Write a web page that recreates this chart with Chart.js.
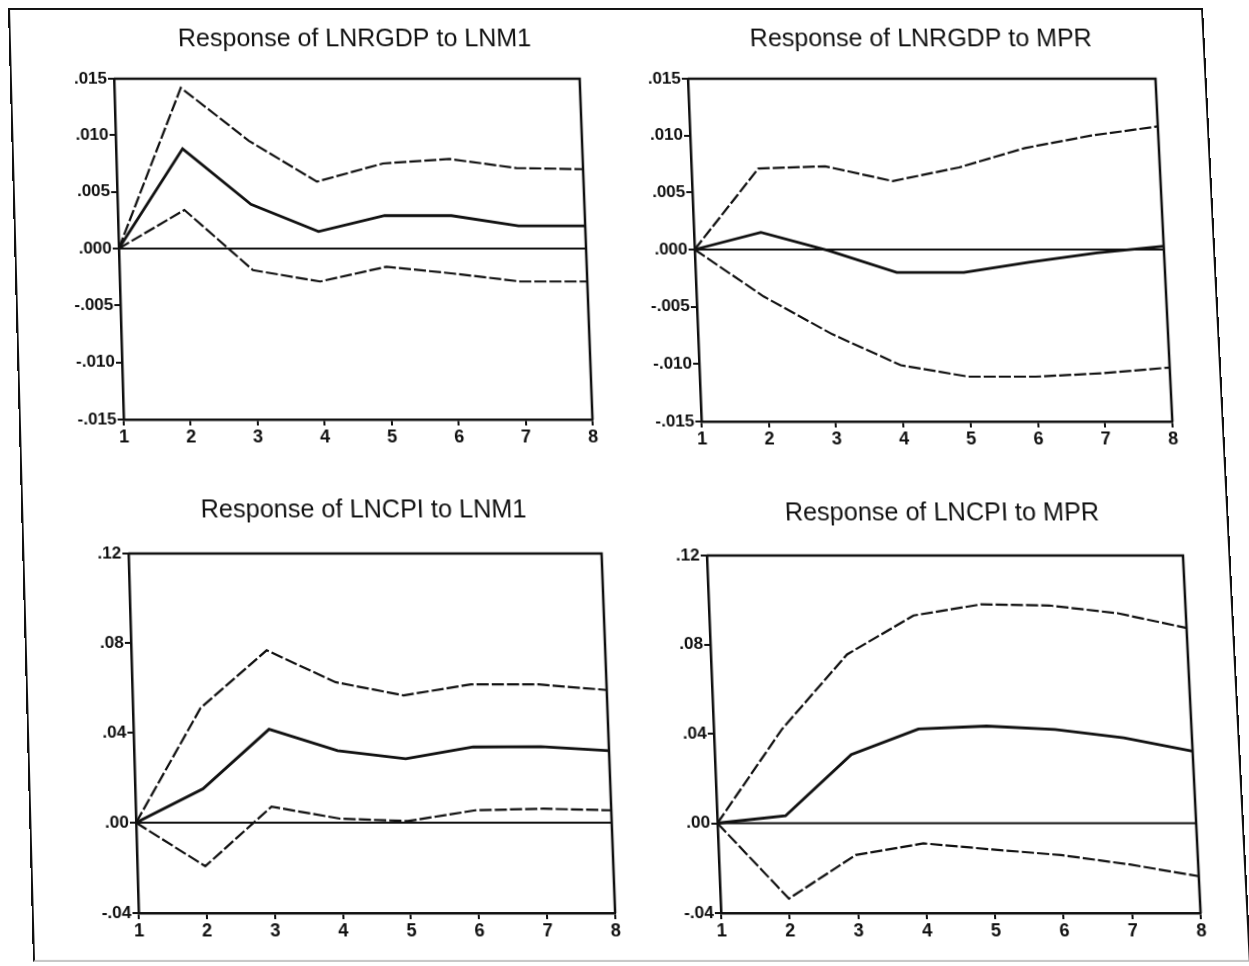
<!DOCTYPE html>
<html>
<head>
<meta charset="utf-8">
<script src="https://cdn.jsdelivr.net/npm/chart.js@4.4.1/dist/chart.umd.min.js"></script>
<style>
  html, body { margin: 0; padding: 0; background: #fff; }
  body { width: 1249px; height: 966px; overflow: hidden; position: relative; }
  #sheet {
    position: absolute; left: 0; top: 0; width: 1195px; height: 954px;
    transform-origin: 0 0; box-sizing: border-box;
    border-top: 2px solid #111; border-left: 2px solid #111;
    border-right: 2px solid #111; border-bottom: 2px solid #c8c8c8;
  }
  .panel { position: absolute; }
</style>
</head>
<body>
<div id="sheet">
  <div class="panel" id="p1"><canvas id="c1"></canvas></div>
  <div class="panel" id="p2"><canvas id="c2"></canvas></div>
  <div class="panel" id="p3"><canvas id="c3"></canvas></div>
  <div class="panel" id="p4"><canvas id="c4"></canvas></div>
</div>
<script>
// horizon (periods)
const periods = ['1', '2', '3', '4', '5', '6', '7', '8'];

// y tick values
const gdpTicks = [-0.015, -0.010, -0.005, 0.000, 0.005, 0.010, 0.015];
const cpiTicks = [-0.04, 0.00, 0.04, 0.08, 0.12];

// Response of LNRGDP to LNM1
const gdpM1 = [0, 0.0088, 0.0039, 0.0015, 0.0029, 0.0029, 0.0020, 0.0020];
const gdpM1Up = [0, 0.0142, 0.0095, 0.0059, 0.0075, 0.0079, 0.0071, 0.0070];
const gdpM1Lo = [0, 0.0034, -0.0019, -0.0029, -0.0016, -0.0022, -0.0029, -0.0029];

// Response of LNRGDP to MPR
const gdpMpr = [0, 0.0015, -0.0001, -0.0020, -0.0020, -0.0011, -0.0003, 0.0003];
const gdpMprUp = [0, 0.0071, 0.0073, 0.0060, 0.0072, 0.0089, 0.0100, 0.0108];
const gdpMprLo = [0, -0.0041, -0.0074, -0.0101, -0.0111, -0.0111, -0.0108, -0.0103];

// Response of LNCPI to LNM1
const cpiM1 = [0, 0.015, 0.0415, 0.032, 0.0284, 0.0336, 0.0338, 0.032];
const cpiM1Up = [0, 0.051, 0.0767, 0.0625, 0.0566, 0.0615, 0.0615, 0.059];
const cpiM1Lo = [0, -0.0193, 0.0071, 0.0018, 0.0007, 0.0055, 0.0062, 0.0055];

// Response of LNCPI to MPR
const cpiMpr = [0, 0.0033, 0.0306, 0.0421, 0.0434, 0.0419, 0.0381, 0.0321];
const cpiMprUp = [0, 0.042, 0.0755, 0.093, 0.098, 0.0975, 0.094, 0.0874];
const cpiMprLo = [0, -0.0336, -0.0142, -0.009, -0.0117, -0.0142, -0.0184, -0.0236];

// the scanned page is a bit skewed: map the flat sheet onto this quad
const sheetW = 1195, sheetH = 954;
const quad = [[8, 8], [1203, 8], [1251, 962], [33, 962]];

function sheetTransform() {
  const [x0, y0] = quad[0], [x1, y1] = quad[1], [x2, y2] = quad[2], [x3, y3] = quad[3];
  const dx1 = x1 - x2, dx2 = x3 - x2, dx3 = x0 - x1 + x2 - x3;
  const dy1 = y1 - y2, dy2 = y3 - y2, dy3 = y0 - y1 + y2 - y3;
  const den = dx1 * dy2 - dx2 * dy1;
  const g = (dx3 * dy2 - dx2 * dy3) / den;
  const h = (dx1 * dy3 - dx3 * dy1) / den;
  const a = x1 - x0 + g * x1, b = x3 - x0 + h * x3, c = x0;
  const d = y1 - y0 + g * y1, e = y3 - y0 + h * y3, f = y0;
  const m = [a / sheetW, d / sheetW, 0, g / sheetW,
             b / sheetH, e / sheetH, 0, h / sheetH,
             0, 0, 1, 0,
             c, f, 0, 1];
  return 'matrix3d(' + m.join(',') + ')';
}
document.getElementById('sheet').style.transform = sheetTransform();

const ink = '#111';
const fontFam = '"Liberation Sans", Arial, sans-serif';
const yW = 62, padTop = 56, padRight = 16, xH = 32;

function fmt(v, dec) {
  return v.toFixed(dec).replace('0.', '.');
}

// frame, zero line and title
const panelDeco = {
  id: 'panelDeco',
  beforeDatasetsDraw(chart) {
    const ctx = chart.ctx, ca = chart.chartArea;
    const y0 = chart.scales.y.getPixelForValue(0);
    ctx.save();
    ctx.strokeStyle = ink;
    ctx.lineWidth = 2;
    ctx.beginPath();
    ctx.moveTo(ca.left, y0);
    ctx.lineTo(ca.right, y0);
    ctx.stroke();
    ctx.restore();
  },
  afterDraw(chart, args, opts) {
    const ctx = chart.ctx, ca = chart.chartArea;
    ctx.save();
    ctx.strokeStyle = ink;
    ctx.lineWidth = 2.5;
    ctx.beginPath();
    ctx.moveTo(ca.left, ca.top);
    ctx.lineTo(ca.right, ca.top);
    ctx.lineTo(ca.right, ca.bottom);
    ctx.stroke();
    ctx.fillStyle = ink;
    ctx.font = '25px ' + fontFam;
    ctx.textAlign = 'center';
    ctx.textBaseline = 'middle';
    ctx.fillText(opts.text, (ca.left + ca.right) / 2 + opts.dx, ca.top + opts.dy);
    ctx.restore();
  }
};

function makePanel(n, area, title, tdx, tdy, ticks, dec, mid, up, lo) {
  const box = document.getElementById('p' + n);
  box.style.left = (area[0] - yW) + 'px';
  box.style.top = (area[1] - padTop) + 'px';
  box.style.width = (yW + area[2] - area[0] + padRight) + 'px';
  box.style.height = (padTop + area[3] - area[1] + xH + 2) + 'px';

  const band = (data) => ({
    data: data, borderColor: ink, borderWidth: 2.2, borderDash: [12, 3],
    pointRadius: 0, tension: 0, fill: false
  });

  new Chart(document.getElementById('c' + n), {
    type: 'line',
    data: {
      labels: periods,
      datasets: [
        band(lo),
        band(up),
        { data: mid, borderColor: ink, borderWidth: 2.8, pointRadius: 0, tension: 0, fill: false }
      ]
    },
    options: {
      responsive: true,
      maintainAspectRatio: false,
      animation: false,
      layout: { padding: { top: padTop, right: padRight, bottom: 2, left: 0 } },
      plugins: {
        legend: { display: false },
        tooltip: { enabled: false },
        panelDeco: { text: title, dx: tdx, dy: tdy }
      },
      scales: {
        x: {
          offset: false,
          grid: { drawOnChartArea: false, drawTicks: true, tickLength: 6, color: ink, lineWidth: 2 },
          border: { display: true, color: ink, width: 2.5 },
          ticks: { color: ink, font: { family: fontFam, size: 18, weight: 'bold' }, padding: 1, maxRotation: 0, autoSkip: false },
          afterFit(s) { s.height = xH; }
        },
        y: {
          min: ticks[0],
          max: ticks[ticks.length - 1],
          afterBuildTicks(s) { s.ticks = ticks.map(v => ({ value: v })); },
          grid: { drawOnChartArea: false, drawTicks: true, tickLength: 6, color: ink, lineWidth: 2 },
          border: { display: true, color: ink, width: 2.5 },
          ticks: {
            color: ink, font: { family: fontFam, size: 17, weight: 'bold' }, padding: 1,
            callback: (v) => fmt(v, dec)
          },
          afterFit(s) { s.width = yW; }
        }
      }
    },
    plugins: [panelDeco]
  });
}

makePanel(1, [102, 70, 567, 414], 'Response of LNRGDP to LNM1', 9, -40, gdpTicks, 3, gdpM1, gdpM1Up, gdpM1Lo);
makePanel(2, [675, 70, 1142, 416], 'Response of LNRGDP to MPR', 1, -40, gdpTicks, 3, gdpMpr, gdpMprUp, gdpMprLo);
makePanel(3, [103, 548, 571, 904], 'Response of LNCPI to LNM1', 0, -43, cpiTicks, 2, cpiM1, cpiM1Up, cpiM1Lo);
makePanel(4, [675, 550, 1146, 904], 'Response of LNCPI to MPR', -1, -42, cpiTicks, 2, cpiMpr, cpiMprUp, cpiMprLo);
</script>
</body>
</html>
